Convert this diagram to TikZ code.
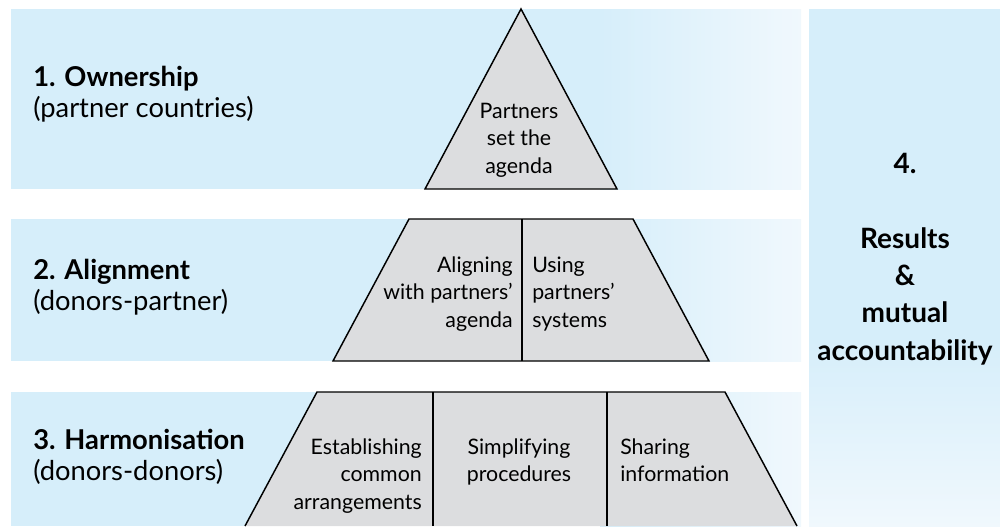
\documentclass[tikz,border=0pt]{standalone}
\usepackage{fontspec}
\setmainfont{Lato}
\usepackage{tikz}
\usepackage{xcolor}

\definecolor{bandblue}{HTML}{D6EEFA}
\definecolor{bandpale}{HTML}{F0F8FD}
\definecolor{stonegrey}{HTML}{DCDDDF}

\tikzset{
  head/.style={anchor=north west, align=left, inner sep=0pt,
    font=\fontsize{20.5}{23.25}\selectfont},
  cell/.style={anchor=north, inner sep=0pt, font=\fontsize{16}{20.6}\selectfont},
  result/.style={anchor=north, align=center, inner sep=0pt,
    font=\bfseries\fontsize{21}{28}\selectfont},
  block/.style={fill=stonegrey, draw=black, line width=1.1pt, line join=miter},
}

\begin{document}
\begin{tikzpicture}[x=0.75pt,y=-0.75pt]
\fill[white] (0,0) rectangle (1000,526);
\useasboundingbox (0,0) rectangle (1000,526);

    % bands
    \foreach \top/\bot in {9/189,219/361,392/526} {
        \fill[bandblue] (11,\top) rectangle (601,\bot);
        \shade[left color=bandblue, right color=bandpale] (600,\top) rectangle (801,\bot);
    }
    % results column
    \fill[bandblue] (809,9) rectangle (1000,341);
    \shade[top color=bandblue, bottom color=bandpale] (809,340) rectangle (1000,526);

    % pyramid
    \draw[block] (521,9) -- (617,189) -- (425,189) -- cycle;
    \draw[block] (409,219) -- (633,219) -- (709,361) -- (333,361) -- cycle;
    \fill[stonegrey] (317,392) -- (725,392) -- (797,526) -- (245,526) -- cycle;
    \draw[block, fill=none] (245,526) -- (317,392) -- (725,392) -- (797,526);
    \draw[line width=1.1pt] (522,219) -- (522,361);
    \foreach \x in {433,607}
        \draw[line width=1.1pt] (\x,392) -- (\x,526);

    % levels
    \node[head] (own) at (33,65) {\strut\textbf{1. Ownership}\\(partner countries)};
    \node[head] (ali) at (33,258) {\strut\textbf{2. Alignment}\\(donors-partner)};
    \node[head] (har) at (33,428) {\strut\textbf{3. Harmonisation}\\(donors-donors)};

    % pyramid texts
    \node[cell, align=center] (agenda) at (519,99) {\strut Partners\\set the\\agenda};
    \node[cell, align=right, anchor=north east] (aligning) at (513,253) {\strut Aligning\\with partners'\\agenda};
    \node[cell, align=left, anchor=north west] (using) at (532,253) {\strut Using\\partners'\\systems};
    \node[cell, align=right, anchor=north east] (establish) at (422,435) {\strut Establishing\\common\\arrangements};
    \node[cell, align=center] (simplify) at (519,435) {\strut Simplifying\\procedures};
    \node[cell, align=left, anchor=north west] (sharing) at (620,435) {\strut Sharing\\information};

    \node[result] (results) at (905,147) {\strut 4.\\\mbox{}\\Results\\\&\\mutual\\accountability};
\end{tikzpicture}
\end{document}
